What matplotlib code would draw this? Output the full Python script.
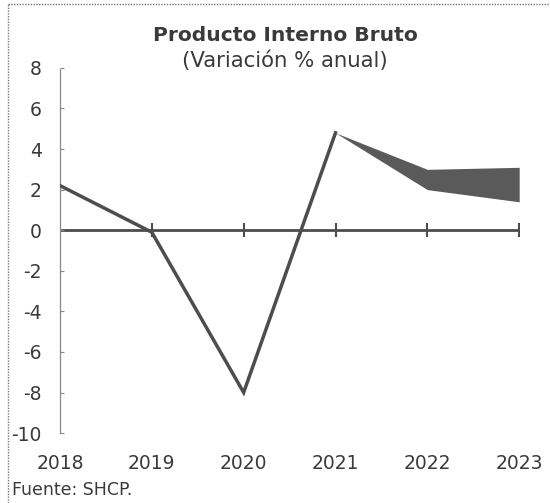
import numpy as np
import matplotlib.pyplot as plt
from matplotlib.lines import Line2D

plt.rcParams['font.family'] = ['DejaVu Sans']
plt.rcParams['axes.unicode_minus'] = False

# data
years = [2018, 2019, 2020, 2021]
pib = [2.2, -0.1, -8.0, 4.8]
band_years = [2021, 2022, 2023]
band_low = [4.8, 2.0, 1.4]
band_high = [4.8, 3.0, 3.1]
xticks = [2018, 2019, 2020, 2021, 2022, 2023]
yticks = [-10, -8, -6, -4, -2, 0, 2, 4, 6, 8]

txt = '#3a3a3a'
ink = '#4d4d4d'

fig = plt.figure(figsize=(5.5, 5.03), dpi=100)
ax = fig.add_axes([0.109, 0.139, 0.835, 0.726])

ax.fill_between(band_years, band_low, band_high, color='#5a5a5a', lw=0, zorder=2)
ax.axhline(0, color=ink, lw=2.0, zorder=1)
ax.plot(xticks[1:], [0] * (len(xticks) - 1), ls='none', marker='|', ms=10, mew=1.5, color=ink, zorder=1)
ax.plot(years, pib, color=ink, lw=2.5, zorder=3, solid_joinstyle='miter')

ax.set_xlim(2018, 2023)
ax.set_ylim(-10, 8)
ax.set_yticks(yticks)
ax.set_xticks(xticks)
ax.set_xticklabels([str(y) for y in xticks])

for s in ['top', 'right', 'bottom']:
    ax.spines[s].set_visible(False)
ax.spines['left'].set_color('#888888')
ax.spines['left'].set_linewidth(0.9)
ax.spines['left'].set_linestyle((0, (1, 1)))

ax.tick_params(axis='y', direction='in', length=3, color='#888888', labelsize=13.5, labelcolor=txt, pad=13)
ax.tick_params(axis='x', length=0, labelsize=13.5, labelcolor=txt, pad=15)

fig.text(0.518, 0.93, 'Producto Interno Bruto', ha='center', va='center',
         fontsize=14.6, fontweight='bold', color=txt)
fig.text(0.518, 0.88, '(Variación % anual)', ha='center', va='center',
         fontsize=15.3, color=txt)
fig.text(0.022, 0.026, 'Fuente: SHCP.', ha='left', va='center', fontsize=12.5, color=txt)

# border of the figure box
fig.add_artist(Line2D([0.015, 0.015], [0, 0.992], transform=fig.transFigure,
                      color='#777777', lw=1.0, ls=(0, (1, 1))))
fig.add_artist(Line2D([0.015, 1.0], [0.992, 0.992], transform=fig.transFigure,
                      color='#777777', lw=1.0, ls=(0, (1, 1))))

fig.savefig('out.png', dpi=100)
